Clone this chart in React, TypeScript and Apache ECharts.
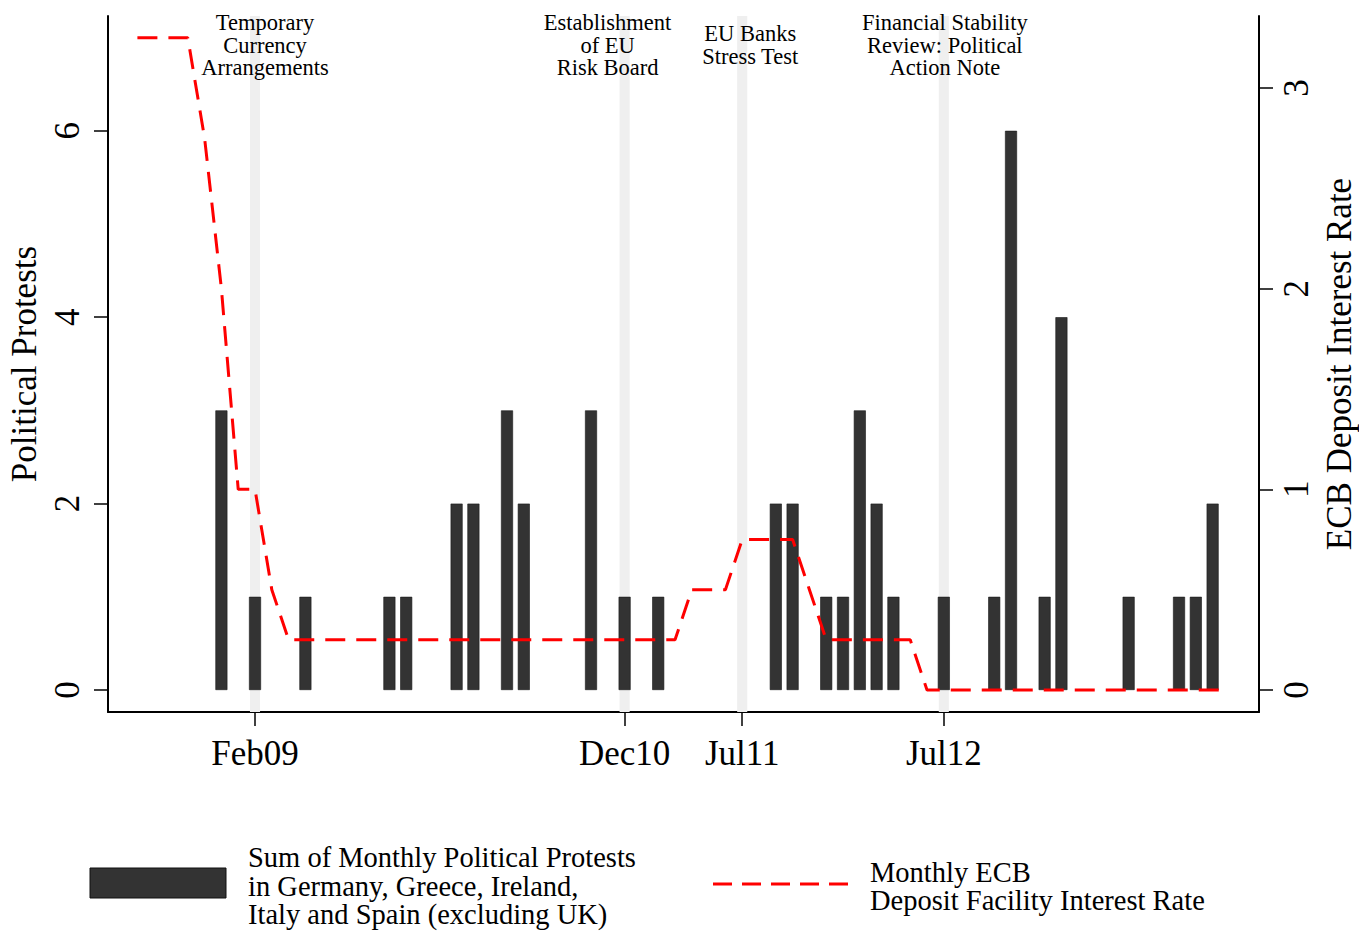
import React, { useEffect, useRef } from "react";
import * as echarts from "echarts";

const months = [
  "Jul08", "Aug08", "Sep08", "Oct08", "Nov08", "Dec08",
  "Jan09", "Feb09", "Mar09", "Apr09", "May09", "Jun09", "Jul09", "Aug09", "Sep09", "Oct09", "Nov09", "Dec09",
  "Jan10", "Feb10", "Mar10", "Apr10", "May10", "Jun10", "Jul10", "Aug10", "Sep10", "Oct10", "Nov10", "Dec10",
  "Jan11", "Feb11", "Mar11", "Apr11", "May11", "Jun11", "Jul11", "Aug11", "Sep11", "Oct11", "Nov11", "Dec11",
  "Jan12", "Feb12", "Mar12", "Apr12", "May12", "Jun12", "Jul12", "Aug12", "Sep12", "Oct12", "Nov12", "Dec12",
  "Jan13", "Feb13", "Mar13", "Apr13", "May13", "Jun13", "Jul13", "Aug13", "Sep13", "Oct13", "Nov13", "Dec13",
];

// ECB deposit facility rate, one value per month above
const rateValues = [
  3.25, 3.25, 3.25, 3.25, 2.75, 2.0,
  1.0, 1.0, 0.5, 0.25, 0.25, 0.25, 0.25, 0.25, 0.25, 0.25, 0.25, 0.25,
  0.25, 0.25, 0.25, 0.25, 0.25, 0.25, 0.25, 0.25, 0.25, 0.25, 0.25, 0.25,
  0.25, 0.25, 0.25, 0.5, 0.5, 0.5, 0.75, 0.75, 0.75, 0.75, 0.5, 0.25,
  0.25, 0.25, 0.25, 0.25, 0.25, 0, 0, 0, 0, 0, 0, 0,
  0, 0, 0, 0, 0, 0, 0, 0, 0, 0, 0, 0,
];

const protestMonths = [
  "Dec08", "Feb09", "May09", "Oct09", "Nov09", "Feb10", "Mar10", "May10", "Jun10", "Oct10",
  "Dec10", "Feb11", "Sep11", "Oct11", "Dec11", "Jan12", "Feb12", "Mar12", "Apr12", "Jul12",
  "Oct12", "Nov12", "Jan13", "Feb13", "Jun13", "Sep13", "Oct13", "Nov13",
];
const protestCounts = [
  3, 1, 1, 1, 1, 2, 2, 3, 2, 3,
  1, 1, 2, 2, 1, 1, 3, 2, 1, 1,
  1, 6, 1, 4, 1, 1, 1, 2,
];

const xTickLabels = ["Feb09", "Dec10", "Jul11", "Jul12"];
const leftTicks = [0, 2, 4, 6];
const rightTicks = [0, 1, 2, 3];

const eventMonths = ["Feb09", "Dec10", "Jul11", "Jul12"];
const eventLabels = [
  "Temporary\nCurrency\nArrangements",
  "Establishment\nof EU\nRisk Board",
  "EU Banks\nStress Test",
  "Financial Stability\nReview: Political\nAction Note",
];
const eventLabelShift = [10, -17, 8, 1];

const barLegend = "Sum of Monthly Political Protests\nin Germany, Greece, Ireland,\nItaly and Spain (excluding UK)";
const lineLegend = "Monthly ECB\nDeposit Facility Interest Rate";

const FONT = "'Liberation Serif', 'Times New Roman', serif";

export default function App() {
  const ref = useRef<HTMLDivElement>(null);
  useEffect(() => {
    if (!ref.current) return;
    const chart = echarts.init(ref.current, null, { renderer: "svg" });
    const idx = (m: string) => months.indexOf(m);
    const xTickVals = xTickLabels.map(idx);

    const option: any = {
      animation: false,
      backgroundColor: "#ffffff",
      textStyle: { fontFamily: FONT, color: "#000" },
      grid: { left: 108, right: 100, top: 16, bottom: 221, containLabel: false, outerBoundsMode: "none" },
      xAxis: {
        type: "value",
        min: -1.75,
        max: 66.76,
        axisLine: { show: true, onZero: false, lineStyle: { color: "#000", width: 2 } },
        axisTick: { show: true, customValues: xTickVals, length: 14, lineStyle: { color: "#000", width: 1.5 } },
        axisLabel: {
          show: true,
          customValues: xTickVals,
          formatter: (v: number) => months[Math.round(v)] ?? "",
          fontSize: 35,
          fontFamily: FONT,
          color: "#000",
          margin: 24,
        },
        splitLine: { show: false },
      },
      yAxis: [
        {
          type: "value",
          min: -0.236,
          max: 7.232,
          name: "Political Protests",
          nameLocation: "middle",
          nameRotate: 90,
          nameGap: 57,
          nameTextStyle: { fontSize: 35, fontFamily: FONT, color: "#000" },
          axisLine: { show: true, onZero: false, lineStyle: { color: "#000", width: 2 } },
          axisTick: { show: true, customValues: leftTicks, length: 14, lineStyle: { color: "#000", width: 1.5 } },
          axisLabel: {
            show: true,
            customValues: leftTicks,
            rotate: 90,
            fontSize: 35,
            fontFamily: FONT,
            color: "#000",
            margin: 23,
          },
          splitLine: { show: false },
        },
        {
          type: "value",
          min: -0.1096,
          max: 3.359,
          position: "right",
          name: "ECB Deposit Interest Rate",
          nameLocation: "middle",
          nameRotate: 90,
          nameGap: 60,
          nameTextStyle: { fontSize: 35, fontFamily: FONT, color: "#000" },
          axisLine: { show: true, onZero: false, lineStyle: { color: "#000", width: 2 } },
          axisTick: { show: true, customValues: rightTicks, length: 14, lineStyle: { color: "#000", width: 1.5 } },
          axisLabel: {
            show: true,
            customValues: rightTicks,
            rotate: 90,
            fontSize: 35,
            fontFamily: FONT,
            color: "#000",
            margin: 20,
          },
          splitLine: { show: false },
        },
      ],
      series: [
        {
          type: "bar",
          name: "protests",
          yAxisIndex: 0,
          barWidth: 12,
          z: 2,
          itemStyle: { color: "#333333", borderColor: "#1a1a1a", borderWidth: 0.6 },
          data: protestMonths.map((m, i) => [idx(m), protestCounts[i]]),
          markArea: {
            silent: true,
            z: 1,
            itemStyle: { color: "#efefef" },
            data: eventMonths.map((m, i) => [
              {
                xAxis: idx(m) - 0.3,
                label: {
                  show: true,
                  formatter: eventLabels[i],
                  position: ["50%", 29],
                  align: "center",
                  verticalAlign: "middle",
                  offset: [eventLabelShift[i], 0],
                  fontSize: 22.5,
                  lineHeight: 22.5,
                  fontFamily: FONT,
                  color: "#000",
                },
              },
              { xAxis: idx(m) + 0.3 },
            ]),
          },
        },
        {
          type: "line",
          name: "rate",
          yAxisIndex: 1,
          z: 3,
          symbol: "none",
          lineStyle: { color: "#ff0000", width: 3, type: [20, 11] },
          data: rateValues.map((v, i) => [i, v]),
        },
      ],
      graphic: [
        {
          type: "rect",
          shape: { x: 90, y: 868, width: 136, height: 30 },
          style: { fill: "#333333", stroke: "#111", lineWidth: 1 },
        },
        {
          type: "text",
          x: 248,
          y: 886,
          style: {
            text: barLegend,
            font: `28.5px ${FONT}`,
            lineHeight: 28.5,
            fill: "#000",
            verticalAlign: "middle",
            align: "left",
          },
        },
        {
          type: "line",
          shape: { x1: 713, y1: 884, x2: 848, y2: 884 },
          style: { stroke: "#ff0000", lineWidth: 3, lineDash: [19, 10] },
        },
        {
          type: "text",
          x: 870,
          y: 886.5,
          style: {
            text: lineLegend,
            font: `28.5px ${FONT}`,
            lineHeight: 28.5,
            fill: "#000",
            verticalAlign: "middle",
            align: "left",
          },
        },
      ],
    };
    chart.setOption(option);
    return () => chart.dispose();
  }, []);
  return (
    <div
      ref={ref}
      style={{ position: "fixed", left: 0, top: 0, width: 1359, height: 933, background: "#fff" }}
    />
  );
}
